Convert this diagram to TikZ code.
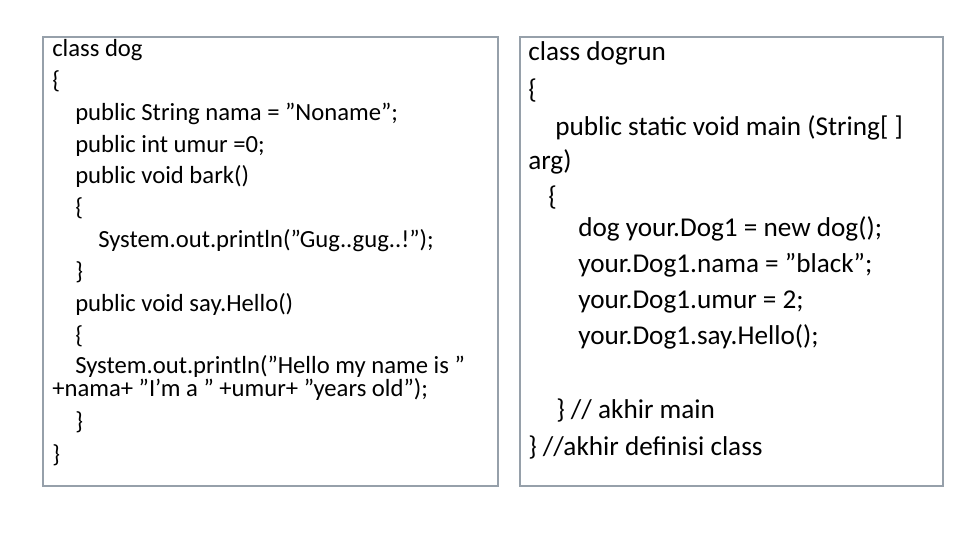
\documentclass[tikz,border=0pt]{standalone}
\usepackage{fontspec}
\setmainfont{Carlito}[Ligatures=ResetAll]
\newcommand\qq{\symbol{34}}
\definecolor{boxline}{RGB}{150,160,170}
\begin{document}
\begin{tikzpicture}[x=0.75pt,y=-0.75pt,
  box/.style={draw=boxline,line width=0.8pt},
  lt/.style={anchor=base west,inner sep=0pt,font=\fontsize{18.5}{20}\selectfont},
  rt/.style={anchor=base west,inner sep=0pt,font=\fontsize{20.4}{22}\selectfont}]
\useasboundingbox (0,0) rectangle (960,540);
\draw[box] (43,37) rectangle (498,486);
\draw[box] (520,37) rectangle (943,486);
\node[lt] (l1) at (52,56) {class dog};
\node[lt] (l2) at (52,88) {\{};
\node[lt] (l3) at (75,120) {public String nama = \qq Noname\qq;};
\node[lt] (l4) at (75,152) {public int umur =0;};
\node[lt] (l5) at (75,183) {public void bark()};
\node[lt] (l6) at (75,215) {\{};
\node[lt] (l7) at (98,247) {System.out.println(\qq Gug..gug..!\qq);};
\node[lt] (l8) at (75,279) {\}};
\node[lt] (l9) at (75,311) {public void say.Hello()};
\node[lt] (l10) at (75,343) {\{};
\node[lt] (l11) at (75,373) {System.out.println(\qq Hello my name is \qq};
\node[lt] (l12) at (52,396) {+nama+ \qq I’m a \qq\ +umur+ \qq years old\qq);};
\node[lt] (l13) at (75,429) {\}};
\node[lt] (l14) at (52,462) {\}};
\node[rt] (r1) at (528,60) {class dogrun};
\node[rt] (r2) at (528,98) {\{};
\node[rt] (r3) at (555,135) {public static void main (String[ ]};
\node[rt] (r4) at (528,169) {arg)};
\node[rt] (r5) at (548,205) {\{};
\node[rt] (r6) at (578,236) {dog your.Dog1 = new dog();};
\node[rt] (r7) at (578,272) {your.Dog1.nama = \qq black\qq;};
\node[rt] (r8) at (578,308) {your.Dog1.umur = 2;};
\node[rt] (r9) at (578,344) {your.Dog1.say.Hello();};
\node[rt] (r10) at (556,418) {\} // akhir main};
\node[rt] (r11) at (528,455) {\} //akhir definisi class};
\end{tikzpicture}
\end{document}
